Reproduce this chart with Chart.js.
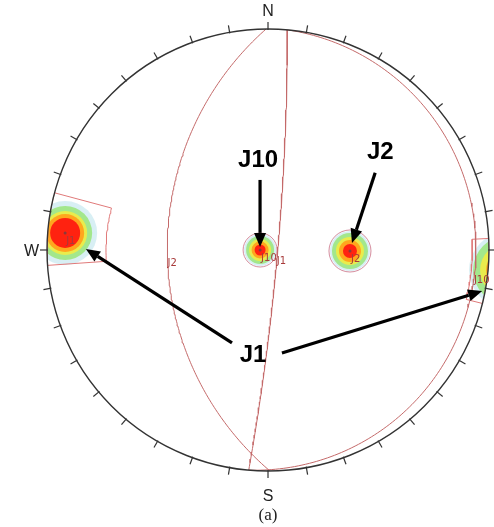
<!DOCTYPE html>
<html>
<head>
<meta charset="utf-8">
<script src="https://cdn.jsdelivr.net/npm/chart.js@4.4.1/dist/chart.umd.min.js"></script>
<style>
  html, body { margin: 0; padding: 0; background: #fff; }
  #wrap { width: 494px; height: 527px; }
</style>
</head>
<body>
<div id="wrap"><canvas id="stereo" width="494" height="527"></canvas></div>
<script>
const D = Math.PI / 180;

// pole concentrations (trend / plunge, degrees)
const poleNames = ['J1', 'J10', 'J2'];
const poleTrend = [274.8, 270, 90.7];
const polePlunge = [4.7, 85.9, 49.3];

// J1 cluster wraps round onto the east side of the net
const wrapTrend = [94.8];
const wrapPlunge = [-4.7];

// mean planes (dip direction / dip)
const planeNames = ['J1', 'J10', 'J2'];
const planeDipDir = [95, 95, 269.5];
const planeDip = [85, 3.5, 41];
const planeLabelTrend = [140, 98, 263];

// set windows (trend range / plunge range)
const windowTrendMin = [266, 87];
const windowTrendMax = [285, 104];
const windowPlungeMin = [0, 0];
const windowPlungeMax = [17.5, 4.5];

// contour levels, outer to inner
const levelColors = ['rgba(200,232,240,0.7)', '#a3e78c', '#e9ec4c', '#ffa61e', '#ff2210'];
// radii (px) per cluster: J1, J10, J2, J1 wrap
const levelRadii = [
    [32, 27, 22, 19, 15],
    [16, 14, 11, 8.5, 5.5],
    [20, 18, 14, 11, 7],
    [38, 34, 27, 21, 16]
];
const outlineRadii = [0, 17, 21, 0];

// callouts
const calloutText = ['J10', 'J2', 'J1'];
const calloutX = [-0.045, 0.508, -0.068];
const calloutY = [0.407, 0.440, -0.475];
const arrowFromX = [-0.036, 0.485, -0.163, 0.063];
const arrowFromY = [0.317, 0.350, -0.420, -0.466];
const arrowToX = [-0.036, 0.380, -0.824, 0.969];
const arrowToY = [0.014, 0.032, 0.005, -0.186];

function project(trend, plunge) {
    const r = Math.tan((90 - plunge) / 2 * D);
    return { x: r * Math.sin(trend * D), y: r * Math.cos(trend * D) };
}

function greatCircle(dd, dip) {
    const st = (dd - 90) * D;
    const pts = [];
    for (let b = 0; b <= 180; b += 1) {
        const bb = b * D;
        const n = Math.cos(bb) * Math.cos(st) + Math.sin(bb) * Math.cos(dip * D) * Math.cos(dd * D);
        const e = Math.cos(bb) * Math.sin(st) + Math.sin(bb) * Math.cos(dip * D) * Math.sin(dd * D);
        const dn = Math.sin(bb) * Math.sin(dip * D);
        pts.push(project(Math.atan2(e, n) / D, Math.asin(dn) / D));
    }
    return pts;
}

function pointOnPlane(dd, dip, trend) {
    const pl = Math.atan(Math.tan(dip * D) * Math.cos((trend - dd) * D)) / D;
    return project(trend, pl);
}

function windowOutline(i) {
    const t0 = windowTrendMin[i], t1 = windowTrendMax[i];
    const p0 = windowPlungeMin[i], p1 = windowPlungeMax[i];
    const pts = [];
    for (let t = t0; t <= t1; t += 1) pts.push(project(t, p1));
    pts.push(project(t1, p0));
    for (let t = t1; t >= t0; t -= 1) pts.push(project(t, p0));
    pts.push(project(t0, p1));
    return pts;
}

const clusterPts = poleTrend.map((t, i) => project(t, polePlunge[i]))
    .concat(wrapTrend.map((t, i) => project(t, wrapPlunge[i])));

const datasets = [];

levelColors.forEach((c, lv) => {
    datasets.push({
        data: clusterPts,
        pointRadius: levelRadii.map(r => r[lv]),
        backgroundColor: c,
        borderWidth: 0,
        order: 20 - lv
    });
});

datasets.push({
    data: clusterPts,
    pointRadius: outlineRadii,
    backgroundColor: 'rgba(0,0,0,0)',
    borderColor: 'rgba(205,120,140,0.85)',
    borderWidth: 1,
    order: 12
});

datasets.push({
    data: clusterPts.slice(0, 3),
    pointRadius: 1.5,
    backgroundColor: '#8a3a3a',
    borderWidth: 0,
    order: 11
});

windowTrendMin.forEach((_, i) => {
    datasets.push({
        data: windowOutline(i),
        showLine: true,
        pointRadius: 0,
        borderColor: '#e07a7a',
        borderWidth: 1,
        order: 3
    });
});

planeDipDir.forEach((dd, i) => {
    datasets.push({
        data: greatCircle(dd, planeDip[i]),
        showLine: true,
        pointRadius: 0,
        borderColor: '#c46a6a',
        borderWidth: 1,
        order: 2
    });
});

const netPlugin = {
    id: 'net',
    beforeDatasetsDraw(chart) {
        const { ctx, scales: { x, y } } = chart;
        const cx = x.getPixelForValue(0), cy = y.getPixelForValue(0);
        const R = x.getPixelForValue(1) - cx;
        ctx.save();
        ctx.beginPath();
        ctx.arc(cx, cy, R, 0, Math.PI * 2);
        ctx.clip();
    },
    afterDatasetsDraw(chart) {
        const { ctx, scales: { x, y } } = chart;
        ctx.restore();
        const cx = x.getPixelForValue(0), cy = y.getPixelForValue(0);
        const R = x.getPixelForValue(1) - cx;
        const px = p => x.getPixelForValue(p.x);
        const py = p => y.getPixelForValue(p.y);

        // primitive circle + ticks every 10 degrees
        ctx.save();
        ctx.strokeStyle = '#333';
        ctx.lineWidth = 1.4;
        ctx.beginPath();
        ctx.arc(cx, cy, R, 0, Math.PI * 2);
        ctx.stroke();
        ctx.lineWidth = 1.2;
        for (let a = 0; a < 360; a += 10) {
            const s = Math.sin(a * D), c = Math.cos(a * D);
            ctx.beginPath();
            ctx.moveTo(cx + (R - 1) * s, cy - (R - 1) * c);
            ctx.lineTo(cx + (R + 7) * s, cy - (R + 7) * c);
            ctx.stroke();
        }

        // compass letters
        ctx.fillStyle = '#222';
        ctx.font = '16px "Liberation Sans", Arial, sans-serif';
        ctx.textAlign = 'center';
        ctx.textBaseline = 'middle';
        ctx.fillText('N', cx, cy - R - 17);
        ctx.fillText('S', cx, cy + R + 26);
        ctx.textAlign = 'right';
        ctx.fillText('W', cx - R - 8, cy + 2);
        ctx.textAlign = 'center';
        ctx.font = '17px "Liberation Serif", "Times New Roman", serif';
        ctx.fillText('(a)', cx, 516);

        // small set labels
        ctx.fillStyle = '#a83a3a';
        ctx.font = '10px "DejaVu Sans", sans-serif';
        ctx.textAlign = 'left';
        ctx.textBaseline = 'middle';
        clusterPts.slice(0, 3).forEach((p, i) => {
            ctx.fillText(poleNames[i], px(p) + 1, py(p) + 8);
        });
        planeNames.forEach((n, i) => {
            const p = pointOnPlane(planeDipDir[i], planeDip[i], planeLabelTrend[i]);
            ctx.fillText(n, px(p), py(p) + 1);
        });

        // callout arrows
        ctx.strokeStyle = '#000';
        ctx.fillStyle = '#000';
        ctx.lineWidth = 3.2;
        arrowFromX.forEach((fx, i) => {
            const x0 = x.getPixelForValue(fx), y0 = y.getPixelForValue(arrowFromY[i]);
            const x1 = x.getPixelForValue(arrowToX[i]), y1 = y.getPixelForValue(arrowToY[i]);
            const ang = Math.atan2(y1 - y0, x1 - x0);
            const hl = 14, hw = 6;
            ctx.beginPath();
            ctx.moveTo(x0, y0);
            ctx.lineTo(x1 - hl * Math.cos(ang), y1 - hl * Math.sin(ang));
            ctx.stroke();
            ctx.beginPath();
            ctx.moveTo(x1, y1);
            ctx.lineTo(x1 - hl * Math.cos(ang) + hw * Math.sin(ang), y1 - hl * Math.sin(ang) - hw * Math.cos(ang));
            ctx.lineTo(x1 - hl * Math.cos(ang) - hw * Math.sin(ang), y1 - hl * Math.sin(ang) + hw * Math.cos(ang));
            ctx.closePath();
            ctx.fill();
        });
        ctx.font = 'bold 24px "Liberation Sans", Arial, sans-serif';
        ctx.textAlign = 'center';
        ctx.textBaseline = 'middle';
        calloutText.forEach((t, i) => {
            ctx.fillText(t, x.getPixelForValue(calloutX[i]), y.getPixelForValue(calloutY[i]));
        });
        ctx.restore();
    }
};

new Chart(document.getElementById('stereo'), {
    type: 'scatter',
    data: { datasets },
    options: {
        responsive: false,
        animation: false,
        events: [],
        layout: { padding: 0, autoPadding: false },
        plugins: { legend: { display: false }, tooltip: { enabled: false } },
        scales: {
            x: { type: 'linear', min: -1.2127, max: 1.0226, display: false },
            y: { type: 'linear', min: -1.2534, max: 1.1312, display: false }
        }
    },
    plugins: [netPlugin]
});
</script>
</body>
</html>
